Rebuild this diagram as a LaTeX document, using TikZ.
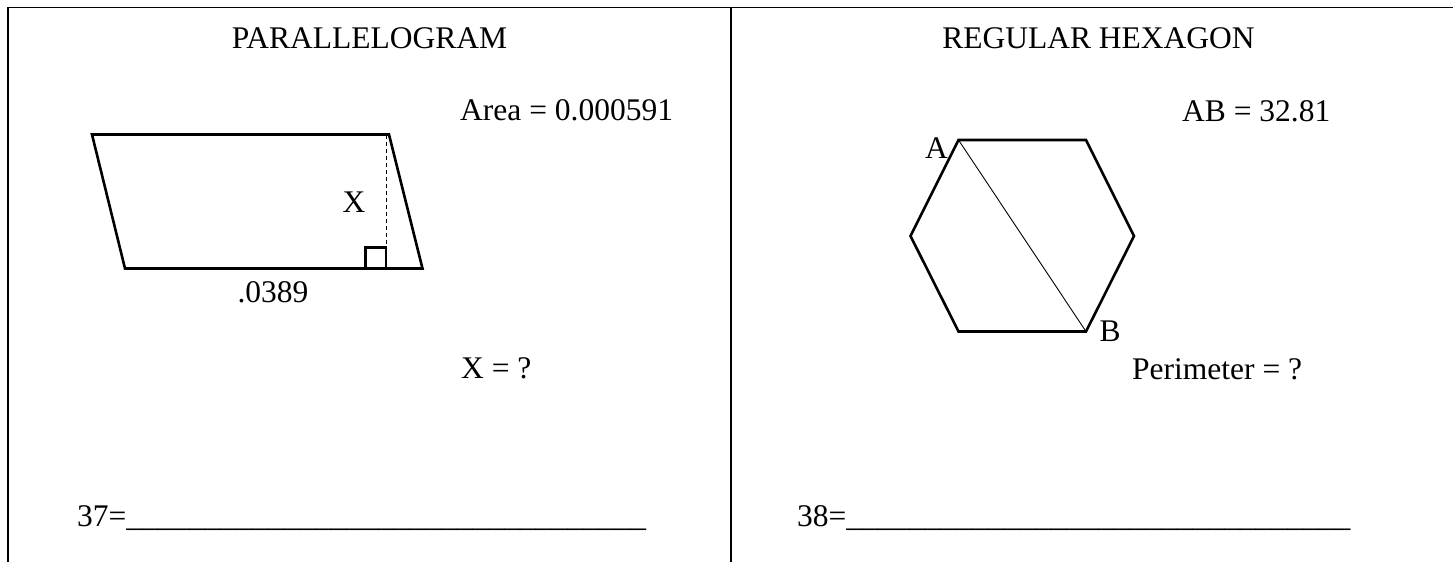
\documentclass[tikz,border=0pt]{standalone}
\usepackage{fontspec}
\setmainfont{Liberation Serif}
\begin{document}
\begin{tikzpicture}[x=1pt,y=-1pt,
  lbl/.style={inner sep=0pt,font=\fontsize{31.5}{36}\selectfont},
  frameline/.style={line width=1.8pt,black},
  shapeline/.style={line width=2.6pt,line join=miter},
  thinline/.style={line width=0.9pt}]
\useasboundingbox (0,0) rectangle (1453,562);
% frame
\coordinate (tl) at (8,7.5);
\coordinate (tr) at (1453,7.5);
\coordinate (bl) at (8,562);
\coordinate (tm) at (731,7.5);
\coordinate (bm) at (731,562);
\draw[frameline] (tr) -- (tl) -- (bl);
\draw[frameline] (tm) -- (bm);
% titles
\node[lbl,anchor=base] (t1) at (369.5,48) {PARALLELOGRAM};
\node[lbl,anchor=base] (t2) at (1098.5,48) {REGULAR HEXAGON};
% parallelogram
\coordinate (p1) at (92,134.5);
\coordinate (p2) at (389,134.5);
\coordinate (p3) at (422.5,268.5);
\coordinate (p4) at (125,268.5);
\draw[shapeline] (p1) -- (p2) -- (p3) -- (p4) -- cycle;
\coordinate (h1) at (386,134.5);
\coordinate (h2) at (386,268.5);
\draw[thinline,dash pattern=on 4pt off 3pt] (h1) -- (h2);
\draw[shapeline] (365.5,268.5) rectangle (386,247.5);
\node[lbl,anchor=base] (xl) at (354,212.5) {X};
\node[lbl,anchor=base] (base) at (273,302) {.0389};
\node[lbl,anchor=base west] (area) at (460,120) {Area = 0.000591};
\node[lbl,anchor=base west] (xq) at (461,378) {X = ?};
\node[lbl,anchor=base west] (a37) at (77,526.5) {37=\_\_\_\_\_\_\_\_\_\_\_\_\_\_\_\_\_\_\_\_\_\_\_\_\_\_\_\_\_\_\_\_\_};
% hexagon
\coordinate (A) at (958.5,140);
\coordinate (H2) at (1086,140);
\coordinate (H3) at (1134,236);
\coordinate (B) at (1086,331.5);
\coordinate (H5) at (958.5,331.5);
\coordinate (H6) at (910.5,236);
\draw[shapeline] (A) -- (H2) -- (H3) -- (B) -- (H5) -- (H6) -- cycle;
\draw[thinline] (A) -- (B);
\node[lbl,anchor=base] (la) at (936.5,158) {A};
\node[lbl,anchor=base] (lb) at (1110,341.5) {B};
\node[lbl,anchor=base west] (ab) at (1182,121) {AB = 32.81};
\node[lbl,anchor=base west] (per) at (1132,379) {Perimeter = ?};
\node[lbl,anchor=base west] (a38) at (797,526.5) {38=\_\_\_\_\_\_\_\_\_\_\_\_\_\_\_\_\_\_\_\_\_\_\_\_\_\_\_\_\_\_\_\_};
\end{tikzpicture}
\end{document}
